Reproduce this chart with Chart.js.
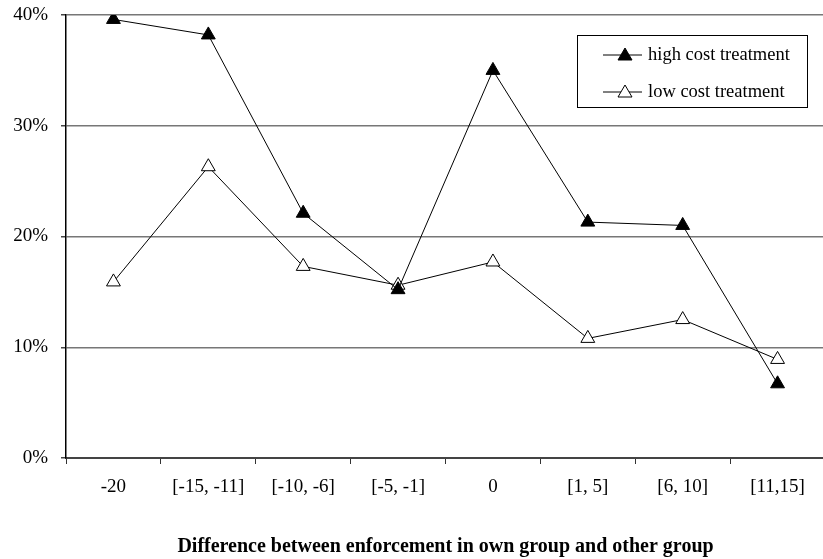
<!DOCTYPE html>
<html>
<head>
<meta charset="utf-8">
<script src="https://cdn.jsdelivr.net/npm/chart.js@4.4.1/dist/chart.umd.min.js"></script>
<style>
  html, body { margin: 0; padding: 0; background: #fff; overflow: hidden; }
  #wrap { position: relative; width: 834px; height: 559px; }
</style>
</head>
<body>
<div id="wrap"><canvas id="chart"></canvas></div>
<script>
// categories on the x axis
var categories = ['-20', '[-15, -11]', '[-10, -6]', '[-5, -1]', '0', '[1, 5]', '[6, 10]', '[11,15]'];

// shares in percent
var highCost = [39.6, 38.2, 22.1, 15.2, 35.0, 21.3, 21.0, 6.7];
var lowCost = [15.9, 26.3, 17.3, 15.6, 17.7, 10.8, 12.5, 8.9];

var seriesNames = ['high cost treatment', 'low cost treatment'];
var axisTitle = 'Difference between enforcement in own group and other group';

var FONT = '"Liberation Serif", "Times New Roman", serif';

// legend drawn in a box, like the original
var boxLegend = {
    id: 'boxLegend',
    afterDraw: function(chart) {
        var ctx = chart.ctx;
        var x = 577, y = 35, w = 230, h = 72;
        ctx.save();
        ctx.strokeStyle = '#000';
        ctx.lineWidth = 1;
        ctx.strokeRect(x + 0.5, y + 0.5, w, h);
        var rows = [{ y: y + 20, fill: '#000' }, { y: y + 57, fill: '#fff' }];
        rows.forEach(function(r, i) {
            ctx.beginPath();
            ctx.moveTo(x + 26, r.y);
            ctx.lineTo(x + 65, r.y);
            ctx.stroke();
            ctx.beginPath();
            ctx.moveTo(x + 48, r.y - 7);
            ctx.lineTo(x + 55, r.y + 5);
            ctx.lineTo(x + 41, r.y + 5);
            ctx.closePath();
            ctx.fillStyle = r.fill;
            ctx.fill();
            ctx.stroke();
            ctx.fillStyle = '#000';
            ctx.font = '18.5px ' + FONT;
            ctx.textBaseline = 'middle';
            ctx.fillText(seriesNames[i], x + 71, r.y);
        });
        ctx.restore();
    }
};

var ctx = document.getElementById('chart');
new Chart(ctx, {
    type: 'line',
    data: {
        labels: categories,
        datasets: [{
            label: seriesNames[0],
            data: highCost,
            borderColor: '#000',
            borderWidth: 1,
            backgroundColor: '#000',
            pointStyle: 'triangle',
            pointRadius: 8,
            pointBackgroundColor: '#000',
            pointBorderColor: '#000',
            pointBorderWidth: 1,
            tension: 0
        }, {
            label: seriesNames[1],
            data: lowCost,
            borderColor: '#000',
            borderWidth: 1,
            backgroundColor: '#fff',
            pointStyle: 'triangle',
            pointRadius: 8,
            pointBackgroundColor: '#fff',
            pointBorderColor: '#000',
            pointBorderWidth: 1,
            tension: 0
        }]
    },
    options: {
        responsive: true,
        maintainAspectRatio: false,
        animation: false,
        layout: { padding: { top: 15, left: 0, right: 0, bottom: 0 } },
        plugins: {
            legend: { display: false },
            tooltip: { enabled: false }
        },
        scales: {
            x: {
                offset: true,
                grid: {
                    offset: true,
                    drawOnChartArea: false,
                    drawTicks: true,
                    tickLength: 6,
                    color: '#333'
                },
                border: { color: '#444', width: 2 },
                ticks: {
                    color: '#000',
                    font: { family: FONT, size: 19 },
                    padding: 12,
                    maxRotation: 0,
                    autoSkip: false
                },
                title: {
                    display: true,
                    text: axisTitle,
                    color: '#000',
                    font: { family: FONT, size: 20, weight: 'bold' },
                    padding: { top: 34, bottom: 0 }
                },
                afterFit: function(scale) { scale.height = 101; }
            },
            y: {
                min: 0,
                max: 40,
                ticks: {
                    stepSize: 10,
                    color: '#000',
                    font: { family: FONT, size: 19 },
                    padding: 13,
                    callback: function(v) { return v + '%'; }
                },
                grid: {
                    color: function(c) { return c.tick && c.tick.value === 0 ? 'rgba(0,0,0,0)' : '#777'; },
                    lineWidth: 1.5,
                    tickLength: 5,
                    tickColor: '#444'
                },
                border: { color: '#000', width: 1.5 },
                afterFit: function(scale) {
                    scale.width = 66;
                    scale.paddingTop = 0;
                    scale.paddingBottom = 0;
                }
            }
        }
    },
    plugins: [boxLegend]
});
</script>
</body>
</html>
